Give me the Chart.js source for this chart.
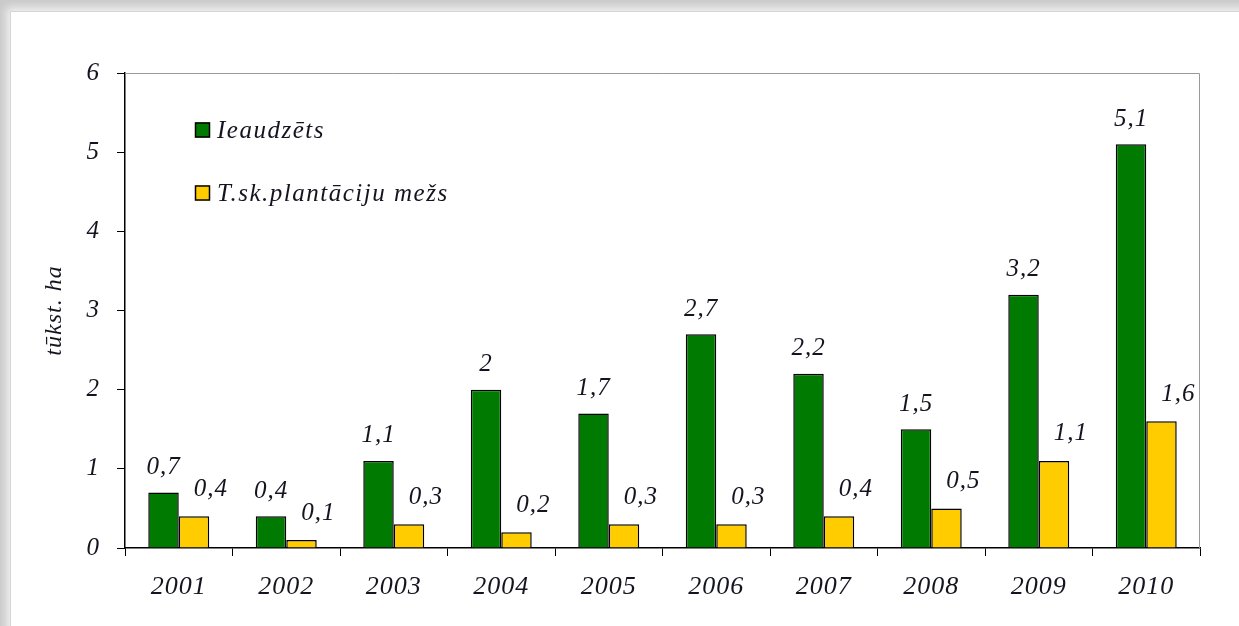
<!DOCTYPE html>
<html>
<head>
<meta charset="utf-8">
<script src="https://cdn.jsdelivr.net/npm/chart.js@4/dist/chart.umd.min.js"></script>
<style>
  html, body { margin: 0; padding: 0; }
  body { width: 1239px; height: 626px; background: #c9c9c9; overflow: hidden; position: relative; }
  .panel {
    position: absolute; left: 11px; top: 12px; width: 1240px; height: 630px;
    background: #fff;
    box-shadow: 0 0 0 1px #d6d6d6, 0 0 9px 5px rgba(245,245,245,0.9);
  }
  .wrap { position: absolute; left: 0; top: 0; width: 1239px; height: 626px; }
</style>
</head>
<body>
<div class="panel"></div>
<div class="wrap"><canvas id="chart"></canvas></div>
<script>
var years = ['2001', '2002', '2003', '2004', '2005', '2006', '2007', '2008', '2009', '2010'];
var planted = [0.7, 0.4, 1.1, 2, 1.7, 2.7, 2.2, 1.5, 3.2, 5.1];
var plantation = [0.4, 0.1, 0.3, 0.2, 0.3, 0.3, 0.4, 0.5, 1.1, 1.6];
var seriesNames = ['Ieaudzēts', 'T.sk.plantāciju mežs'];
var yTicks = [0, 1, 2, 3, 4, 5, 6];

var FONT = 'Liberation Serif, Times New Roman, serif';
var TXT = '#141420';

// slight letter spacing like the old Excel rendering
var spacing = {
  id: 'spacing',
  beforeDraw: function (chart) { chart.ctx.letterSpacing = '1px'; }
};

// gray frame on top/right of plot
var frame = {
  id: 'frame',
  beforeDatasetsDraw: function (chart) {
    var a = chart.chartArea, ctx = chart.ctx;
    ctx.save();
    ctx.strokeStyle = '#9a9a9a';
    ctx.lineWidth = 1;
    ctx.beginPath();
    ctx.moveTo(a.left, a.top + 0.5);
    ctx.lineTo(a.right - 0.5, a.top + 0.5);
    ctx.lineTo(a.right - 0.5, a.bottom);
    ctx.stroke();
    ctx.restore();
  }
};

// value labels above bars
var valueLabels = {
  id: 'valueLabels',
  afterDatasetsDraw: function (chart) {
    var ctx = chart.ctx;
    ctx.save();
    ctx.font = 'italic 25px ' + FONT;
    ctx.fillStyle = TXT;
    ctx.textAlign = 'center';
    ctx.textBaseline = 'middle';
    chart.data.datasets.forEach(function (ds, di) {
      var meta = chart.getDatasetMeta(di);
      meta.data.forEach(function (bar, i) {
        var txt = String(ds.data[i]).replace('.', ',');
        var dx = di === 0 ? 0 : 17;
        var dy = di === 0 ? 25 : 27;
        ctx.fillText(txt, bar.x + dx, bar.y - dy);
      });
    });
    ctx.restore();
  }
};

// legend inside plot, top-left
var insideLegend = {
  id: 'insideLegend',
  afterDraw: function (chart) {
    var ctx = chart.ctx;
    var a = chart.chartArea;
    ctx.save();
    ctx.letterSpacing = '1.5px';
    ctx.font = 'italic 25px ' + FONT;
    ctx.textBaseline = 'middle';
    ctx.textAlign = 'left';
    chart.data.datasets.forEach(function (ds, i) {
      var y = a.top + 57 + i * 63;
      var x = a.left + 70;
      ctx.fillStyle = ds.backgroundColor;
      ctx.fillRect(x, y - 7.5, 15, 15);
      ctx.strokeStyle = '#000';
      ctx.lineWidth = 1.5;
      ctx.strokeRect(x + 0.5, y - 7, 14, 14);
      ctx.fillStyle = TXT;
      ctx.fillText(ds.label, x + 22, y + 1);
    });
    ctx.restore();
  }
};

new Chart(document.getElementById('chart'), {
  type: 'bar',
  data: {
    labels: years,
    datasets: [{
      label: seriesNames[0],
      data: planted,
      backgroundColor: '#017a01',
      borderColor: '#000',
      borderWidth: 1.5
    }, {
      label: seriesNames[1],
      data: plantation,
      backgroundColor: '#ffcc00',
      borderColor: '#000',
      borderWidth: 1.5
    }]
  },
  options: {
    responsive: true, maintainAspectRatio: false,
    animation: false,
    layout: { padding: { left: 0, top: 73, right: 39, bottom: 0 } },
    categoryPercentage: 0.567,
    barPercentage: 1,
    plugins: { legend: { display: false }, tooltip: { enabled: false } },
    scales: {
      x: {
        afterFit: function (s) { s.height = 78; },
        grid: { offset: true, drawOnChartArea: false, drawTicks: true, tickLength: 8, color: '#000' },
        border: { color: '#000', width: 1.5 },
        ticks: { color: TXT, padding: 16, font: { family: FONT, size: 26, style: 'italic' } }
      },
      y: {
        min: 0, max: 6,
        afterFit: function (s) { s.width = 125; },
        afterBuildTicks: function (s) { s.ticks = yTicks.map(function (v) { return { value: v }; }); },
        grid: { drawOnChartArea: false, drawTicks: true, tickLength: 8, color: '#000' },
        border: { color: '#000', width: 1.5 },
        ticks: { color: TXT, padding: 17, font: { family: FONT, size: 25, style: 'italic' } },
        title: {
          display: true, text: 'tūkst. ha', color: TXT,
          padding: { top: 40, bottom: 0 },
          font: { family: FONT, size: 24, style: 'italic' }
        }
      }
    }
  },
  plugins: [spacing, frame, valueLabels, insideLegend]
});
</script>
</body>
</html>
